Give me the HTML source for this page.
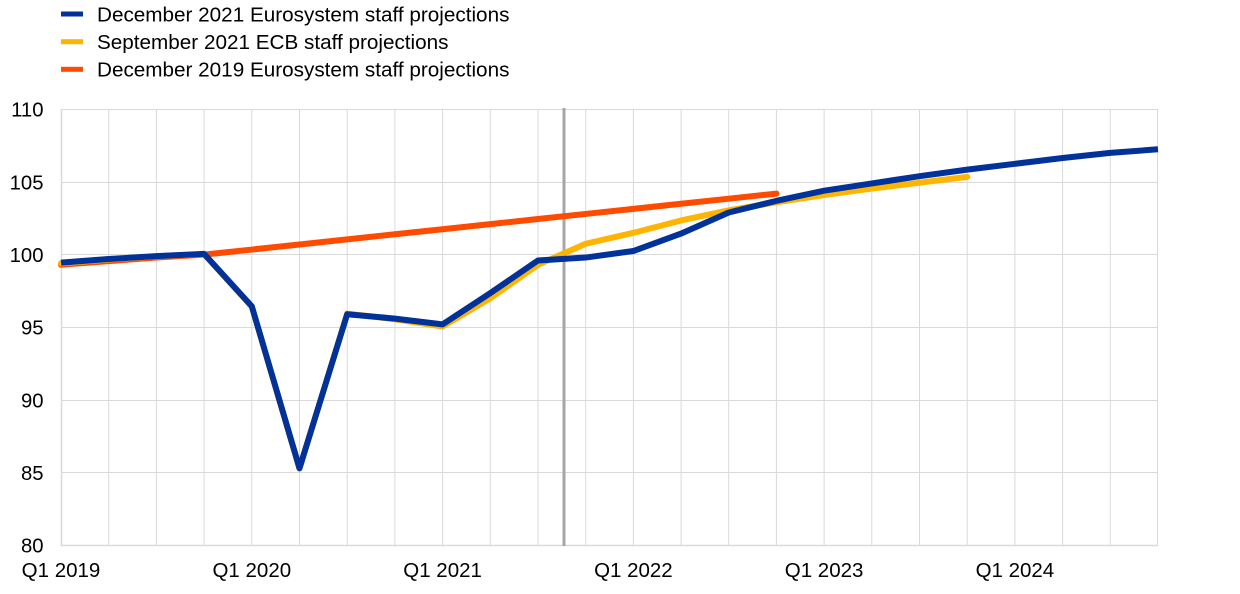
<!DOCTYPE html>
<html>
<head>
<meta charset="utf-8">
<style>
html,body{margin:0;padding:0;background:#fff;}
svg{display:block;}
text{font-family:"Liberation Sans",Arial,sans-serif;fill:#000;}
</style>
</head>
<body>
<svg width="1240" height="594" viewBox="0 0 1240 594" xmlns="http://www.w3.org/2000/svg">
<!-- legend -->
<rect x="61" y="11.5" width="22" height="5" fill="#003299"/>
<text x="97" y="21.3" font-size="20.7">December 2021 Eurosystem staff projections</text>
<rect x="61" y="39.2" width="22" height="5" fill="#ffb400"/>
<text x="97" y="49" font-size="20.7">September 2021 ECB staff projections</text>
<rect x="61" y="66.8" width="22" height="5" fill="#ff4b00"/>
<text x="97" y="76.6" font-size="20.7">December 2019 Eurosystem staff projections</text>

<!-- grid -->
<g stroke="#d9d9d9" stroke-width="1" fill="none">
<line x1="61" y1="109.5" x2="1158" y2="109.5"/>
<line x1="61" y1="182.5" x2="1158" y2="182.5"/>
<line x1="61" y1="254.5" x2="1158" y2="254.5"/>
<line x1="61" y1="327.5" x2="1158" y2="327.5"/>
<line x1="61" y1="400.5" x2="1158" y2="400.5"/>
<line x1="61" y1="472.5" x2="1158" y2="472.5"/>
<line x1="61" y1="545.5" x2="1158" y2="545.5" stroke-width="1.5"/>
<line x1="61.5" y1="109" x2="61.5" y2="546" stroke-width="1.5"/>
<line x1="108.7" y1="109" x2="108.7" y2="546"/>
<line x1="156.4" y1="109" x2="156.4" y2="546"/>
<line x1="204.1" y1="109" x2="204.1" y2="546"/>
<line x1="251.8" y1="109" x2="251.8" y2="546"/>
<line x1="299.5" y1="109" x2="299.5" y2="546"/>
<line x1="347.2" y1="109" x2="347.2" y2="546"/>
<line x1="394.9" y1="109" x2="394.9" y2="546"/>
<line x1="442.6" y1="109" x2="442.6" y2="546"/>
<line x1="490.3" y1="109" x2="490.3" y2="546"/>
<line x1="538.0" y1="109" x2="538.0" y2="546"/>
<line x1="585.7" y1="109" x2="585.7" y2="546"/>
<line x1="633.4" y1="109" x2="633.4" y2="546"/>
<line x1="681.1" y1="109" x2="681.1" y2="546"/>
<line x1="728.7" y1="109" x2="728.7" y2="546"/>
<line x1="776.4" y1="109" x2="776.4" y2="546"/>
<line x1="824.1" y1="109" x2="824.1" y2="546"/>
<line x1="871.8" y1="109" x2="871.8" y2="546"/>
<line x1="919.5" y1="109" x2="919.5" y2="546"/>
<line x1="967.2" y1="109" x2="967.2" y2="546"/>
<line x1="1014.9" y1="109" x2="1014.9" y2="546"/>
<line x1="1062.6" y1="109" x2="1062.6" y2="546"/>
<line x1="1110.3" y1="109" x2="1110.3" y2="546"/>
<line x1="1157.5" y1="109" x2="1157.5" y2="546"/>
</g>

<!-- y labels -->
<g font-size="20.3" text-anchor="end">
<text x="43.5" y="116.6">110</text>
<text x="43.5" y="189.3">105</text>
<text x="43.5" y="261.9">100</text>
<text x="43.5" y="334.6">95</text>
<text x="43.5" y="407.3">90</text>
<text x="43.5" y="479.9">85</text>
<text x="43.5" y="552.6">80</text>
</g>

<!-- x labels -->
<g font-size="20.5" text-anchor="middle">
<text x="61" y="577">Q1 2019</text>
<text x="251.8" y="577">Q1 2020</text>
<text x="442.6" y="577">Q1 2021</text>
<text x="633.4" y="577">Q1 2022</text>
<text x="824.1" y="577">Q1 2023</text>
<text x="1014.9" y="577">Q1 2024</text>
</g>

<!-- vertical marker -->
<line x1="564" y1="108" x2="564" y2="546" stroke="#a6a6a6" stroke-width="3"/>

<!-- December 2019 (orange) -->
<polyline fill="none" stroke="#ff4b00" stroke-width="6" stroke-linecap="round" stroke-linejoin="round"
points="61,264.81 108.7,261.18 156.39,257.55 204.09,254.64 251.78,249.55 299.48,244.47 347.18,239.38 394.87,234.29 442.57,229.21 490.26,224.12 537.96,219.03 585.66,213.95 633.35,208.86 681.05,203.77 728.74,198.69 776.44,193.6"/>

<!-- September 2021 (yellow) -->
<polyline fill="none" stroke="#ffb400" stroke-width="6" stroke-linecap="round" stroke-linejoin="round"
points="61,263.35 108.7,259.5 156.39,256.3 204.09,254.1 251.78,306.6 299.48,468.6 347.18,313.6 394.87,319.3 442.57,326.58 490.26,298.24 537.96,264.81 585.66,243.74 633.35,232.84 681.05,220.49 728.74,210.31 776.44,202.32 824.14,195.05 871.83,188.51 919.53,182.7 967.22,176.89"/>

<!-- December 2021 (blue) -->
<polyline fill="none" stroke="#003299" stroke-width="6" stroke-linecap="butt" stroke-linejoin="round"
points="61,262.63 108.7,259.0 156.39,256.09 204.09,253.91 251.78,306.23 299.48,468.28 347.18,314.23 394.87,318.59 442.57,324.4 490.26,293.15 537.96,260.45 585.66,257.55 633.35,251.01 681.05,233.57 728.74,212.49 776.44,200.87 824.14,190.69 871.83,183.43 919.53,176.16 967.22,169.62 1014.92,163.81 1062.62,158.0 1110.31,152.91 1158,149.28"/>
</svg>
</body>
</html>
